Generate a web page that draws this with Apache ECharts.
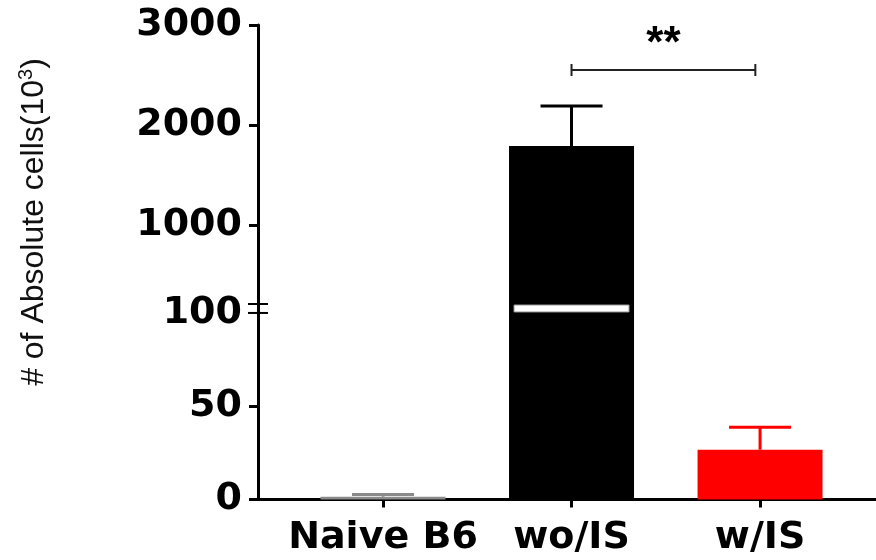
<!DOCTYPE html>
<html>
<head>
<meta charset="utf-8">
<script src="https://cdn.jsdelivr.net/npm/echarts@6/dist/echarts.min.js"></script>
<style>html,body{margin:0;padding:0;background:#fff}#c{width:876px;height:560px}</style>
</head>
<body>
<div id="c"></div>
<script>
// ---- data ----
const categories = ['Naive B6', 'wo/IS', 'w/IS'];
const means = [1.5, 1790, 26.7];
const errors = [1.2, 400, 12];
const barColors = ['#8a8a8a', '#000000', '#ff0000'];
const lowerTickLabels = [0, 50, 100];
const upperTickLabels = [1000, 2000, 3000];
const sigBracket = [1, 1.975, 2550];   // from x, to x, height (upper scale)
const sigText = '**';
const sigTextValue = 2800;
const yTitleMain = '# of Absolute cells(10';
const yTitleSup = '3';

// ---- axis segments ----
const lowerMin = 0, lowerMax = 104.8, breakValue = 100;
const upperMin = 210, upperMax = 3000;
const xMin = -0.663, xMax = 2.615;
const FONT = '"DejaVu Sans", Verdana, sans-serif';

const chart = echarts.init(document.getElementById('c'));

const barData = means.map((m, i) => ({ value: [i, m], itemStyle: { color: barColors[i] } }));
const errLower = [], errUpper = [];
means.forEach((m, i) => {
  const row = [i, m, errors[i], i];
  if (m + errors[i] <= lowerMax) errLower.push(row); else errUpper.push(row);
});
const brokenBars = means.map((m, i) => m > lowerMax ? [i, breakValue, lowerMax] : null).filter(Boolean);

function errRender(params, api) {
  const x = api.value(0), m = api.value(1), e = api.value(2), ci = api.value(3);
  const b = api.coord([x, m]), t = api.coord([x, m + e]);
  const col = barColors[ci];
  return { type: 'group', children: [
    { type: 'line', shape: { x1: b[0], y1: b[1], x2: t[0], y2: t[1] }, style: { stroke: col, lineWidth: 3 } },
    { type: 'line', shape: { x1: t[0] - 31, y1: t[1], x2: t[0] + 31, y2: t[1] }, style: { stroke: col, lineWidth: 3 } }
  ]};
}

const xAxisBase = { type: 'value', min: xMin, max: xMax, splitLine: { show: false } };
const yLabel = { color: '#000', fontFamily: FONT, fontWeight: 'bold', fontSize: 38, margin: 16,
  padding: [6, 0, 0, 0], formatter: v => String(v) };

chart.setOption({
  animation: false,
  backgroundColor: '#fff',
  grid: [
    { left: 258, right: 0, top: 25, height: 279 },
    { left: 258, right: 0, top: 304, bottom: 60.5 }
  ],
  xAxis: [
    Object.assign({ gridIndex: 0, show: false }, xAxisBase),
    Object.assign({ gridIndex: 1,
      axisLine: { show: true, onZero: false, lineStyle: { color: '#000', width: 3 } },
      axisTick: { show: true, customValues: [0, 1, 2], length: 8, lineStyle: { color: '#000', width: 3 } },
      axisLabel: { customValues: [0, 1, 2], formatter: v => categories[Math.round(v)], color: '#000',
        fontFamily: FONT, fontWeight: 'bold', fontSize: 38, margin: 20 }
    }, xAxisBase)
  ],
  yAxis: [
    { type: 'value', gridIndex: 0, min: upperMin, max: upperMax, splitLine: { show: false },
      axisLine: { show: true, onZero: false, lineStyle: { color: '#000', width: 3 } },
      axisTick: { show: true, customValues: upperTickLabels, length: 9, lineStyle: { color: '#000', width: 3 } },
      axisLabel: Object.assign({ customValues: upperTickLabels }, yLabel) },
    { type: 'value', gridIndex: 1, min: lowerMin, max: lowerMax, splitLine: { show: false },
      axisLine: { show: true, onZero: false, lineStyle: { color: '#000', width: 3 } },
      axisTick: { show: true, customValues: [0, 50], length: 9, lineStyle: { color: '#000', width: 3 } },
      axisLabel: Object.assign({ customValues: lowerTickLabels }, yLabel) }
  ],
  series: [
    { type: 'bar', xAxisIndex: 0, yAxisIndex: 0, barWidth: 125, data: barData, clip: true },
    { type: 'bar', xAxisIndex: 1, yAxisIndex: 1, barWidth: 125, data: barData, clip: true },
    { type: 'custom', xAxisIndex: 1, yAxisIndex: 1, clip: false, data: errLower, renderItem: errRender, z: 5 },
    { type: 'custom', xAxisIndex: 0, yAxisIndex: 0, clip: false, data: errUpper, renderItem: errRender, z: 5 },
    { type: 'custom', xAxisIndex: 1, yAxisIndex: 1, clip: false, data: brokenBars, z: 6,
      renderItem: (params, api) => {
        const lo = api.coord([api.value(0), api.value(1)]);
        const hi = api.coord([api.value(0), api.value(2)]);
        return { type: 'rect', shape: { x: lo[0] - 57.5, y: hi[1] + 1, width: 115, height: lo[1] - hi[1] - 2 },
          style: { fill: '#fff', stroke: '#999', lineWidth: 1 } };
      } },
    { type: 'custom', xAxisIndex: 1, yAxisIndex: 1, clip: false, data: [[xMin, breakValue], [xMin, lowerMax]], z: 10,
      renderItem: (params, api) => {
        const p = api.coord([api.value(0), api.value(1)]);
        return { type: 'line', shape: { x1: p[0] - 10, y1: p[1], x2: p[0] + 10, y2: p[1] }, style: { stroke: '#000', lineWidth: 2 } };
      } },
    { type: 'custom', xAxisIndex: 0, yAxisIndex: 0, clip: false, data: [[sigBracket[0], sigBracket[1], sigBracket[2], sigTextValue]], z: 10,
      renderItem: (params, api) => {
        const a = api.coord([api.value(0), api.value(2)]);
        const b = api.coord([api.value(1), api.value(2)]);
        const t = api.coord([(api.value(0) + api.value(1)) / 2, api.value(3)]);
        const st = { stroke: '#222', lineWidth: 2 };
        return { type: 'group', children: [
          { type: 'line', shape: { x1: a[0], y1: a[1], x2: b[0], y2: b[1] }, style: st },
          { type: 'line', shape: { x1: a[0], y1: a[1] - 6, x2: a[0], y2: a[1] + 6 }, style: st },
          { type: 'line', shape: { x1: b[0], y1: b[1] - 6, x2: b[0], y2: b[1] + 6 }, style: st },
          { type: 'text', x: t[0], y: t[1], style: { text: sigText, fill: '#000', fontFamily: '"Liberation Sans", Arial, sans-serif',
            fontWeight: 'bold', fontSize: 44, align: 'center', verticalAlign: 'middle' } }
        ]};
      } }
  ],
  graphic: [
    { type: 'text', x: 34, y: 222, rotation: Math.PI / 2,
      style: { text: '{a|' + yTitleMain + '}{s|' + yTitleSup + '}{a|)}', align: 'center', verticalAlign: 'middle',
        rich: {
          a: { fontFamily: '"Liberation Sans", Arial, sans-serif', fontSize: 32, lineHeight: 36, fill: '#111' },
          s: { fontFamily: '"Liberation Sans", Arial, sans-serif', fontSize: 20, lineHeight: 36, verticalAlign: 'top', fill: '#111' }
        } } }
  ]
});
</script>
</body>
</html>
